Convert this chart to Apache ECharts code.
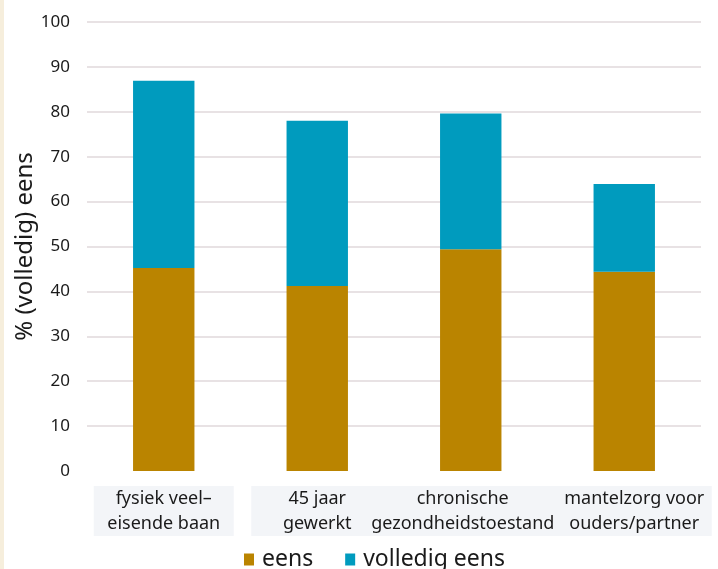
<!DOCTYPE html>
<html>
<head>
<meta charset="utf-8">
<script src="https://cdn.jsdelivr.net/npm/echarts@6/dist/echarts.min.js"></script>
<style>
html,body{margin:0;padding:0;background:#fff;}
#strip{position:absolute;left:0;top:0;width:4px;height:569px;background:#F6EEDC;}
#c{position:absolute;left:0;top:0;width:718px;height:569px;}
</style>
</head>
<body>
<div id="c"></div>
<div id="strip"></div>
<script>
const categories = ['fysiek veel–\neisende baan', '45 jaar\ngewerkt', 'chronische\ngezondheidstoestand', 'mantelzorg voor\nouders/partner'];
const eens = [45.2, 41.2, 49.4, 44.4];
const volledigEens = [41.7, 36.8, 30.2, 19.5];
const yTicks = [0, 10, 20, 30, 40, 50, 60, 70, 80, 90, 100];

// label box styling: box width, spacer left, spacer right
const labelBoxes = [
  {w: 140, sl: 0, sr: 0},
  {w: 132, sl: 0, sr: 0},
  {w: 206, sl: 0, sr: 16},
  {w: 155, sl: 20, sr: 0}
];

const font = 'Noto Sans';
const rich = {};
labelBoxes.forEach((b, i) => {
  rich['t' + i] = {width: b.w, height: 25, lineHeight: 25, align: 'center',
    backgroundColor: '#F3F5F8', fontFamily: font, fontSize: 18, color: '#1a1a1a'};
  rich['l' + i] = {width: b.sl, height: 25, lineHeight: 25, align: 'center', fontSize: 18, fontFamily: font};
  rich['r' + i] = {width: b.sr, height: 25, lineHeight: 25, align: 'center', fontSize: 18, fontFamily: font};
});

const chart = echarts.init(document.getElementById('c'), null, {renderer: 'canvas'});
chart.setOption({
  animation: false,
  grid: {left: 87, right: 17, top: 22, bottom: 98},
  legend: {
    top: 548, left: 244, padding: 0,
    itemWidth: 10, itemHeight: 12, itemGap: 32,
    icon: 'rect',
    textStyle: {fontFamily: font, fontSize: 23, color: '#1a1a1a', padding: [0, 0, 0, 3]},
    data: ['eens', 'volledig eens']
  },
  xAxis: {
    type: 'category',
    data: categories,
    axisLine: {show: false},
    axisTick: {show: false},
    axisLabel: {
      interval: 0, margin: 15,
      fontFamily: font, fontSize: 18, color: '#1a1a1a', lineHeight: 25,
      formatter: function (value, index) {
        const b = labelBoxes[index];
        return value.split('\n').map(line =>
          (b.sl ? '{l' + index + '| }' : '') + '{t' + index + '|' + line + '}' + (b.sr ? '{r' + index + '| }' : '')
        ).join('\n');
      },
      rich: rich
    }
  },
  yAxis: {
    type: 'value', min: 0, max: 100, interval: 10,
    name: '% (volledig) eens', nameLocation: 'middle', nameGap: 50, nameMoveOverlap: false,
    nameTextStyle: {fontFamily: font, fontSize: 24, color: '#1a1a1a'},
    axisLine: {show: false}, axisTick: {show: false},
    axisLabel: {fontFamily: font, fontSize: 17, color: '#1a1a1a', margin: 17,
      formatter: v => yTicks.includes(v) ? String(v) : ''},
    splitLine: {showMinLine: false, lineStyle: {color: '#E0D8DB', width: 1.5}}
  },
  series: [
    {name: 'eens', type: 'bar', stack: 's', data: eens, barWidth: '40%',
     itemStyle: {color: '#BA8400'}},
    {name: 'volledig eens', type: 'bar', stack: 's', data: volledigEens, barWidth: '40%',
     itemStyle: {color: '#009BBE'}}
  ]
});
</script>
</body>
</html>
